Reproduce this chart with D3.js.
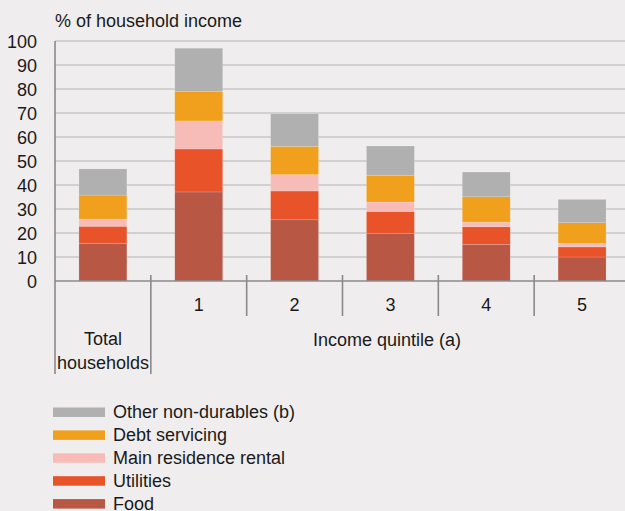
<!DOCTYPE html>
<html>
<head>
<meta charset="utf-8">
<script src="https://cdn.jsdelivr.net/npm/d3@7"></script>
<style>
  html, body { margin: 0; padding: 0; background: #efeded; }
  svg { display: block; }
  text { font-family: "Liberation Sans", Arial, Helvetica, sans-serif; fill: #1a1a1a; }
</style>
</head>
<body>
<svg id="chart" width="625" height="511"></svg>
<script>
const categories = ["Total households", "1", "2", "3", "4", "5"];
const seriesNames = ["Food", "Utilities", "Main residence rental", "Debt servicing", "Other non-durables (b)"];
const food      = [15.7, 37.1, 25.5, 19.9, 15.3, 10.0];
const utilities = [7.1, 17.9, 12.0, 9.1, 7.3, 4.2];
const rental    = [3.0, 11.7, 6.8, 3.9, 1.9, 1.5];
const debt      = [10.0, 12.2, 11.8, 11.1, 10.6, 8.6];
const other     = [10.9, 18.1, 13.6, 12.25, 10.3, 9.7];
const yTicks = [0, 10, 20, 30, 40, 50, 60, 70, 80, 90, 100];
const colors = ["#b95745", "#e9532a", "#f7bcb8", "#f0a01c", "#b0b0b1"];

const seriesValues = [food, utilities, rental, debt, other];
const rows = categories.map((c, i) => {
  const r = { cat: c };
  seriesNames.forEach((s, k) => r[s] = seriesValues[k][i]);
  return r;
});

const svg = d3.select("#chart");
const x = d3.scaleBand().domain(categories).range([55, 630]).paddingInner(0.5).paddingOuter(0.25);
const y = d3.scaleLinear().domain([0, 100]).range([281, 41]);

// gridlines
svg.append("g").selectAll("line").data(yTicks.filter(d => d > 0)).join("line")
  .attr("x1", 55).attr("x2", 625)
  .attr("y1", d => y(d)).attr("y2", d => y(d))
  .attr("stroke", "#c9c7c7").attr("stroke-width", 1.6);

// y labels
svg.append("g").selectAll("text").data(yTicks).join("text")
  .attr("x", 37).attr("y", d => y(d) + 6.5)
  .attr("text-anchor", "end").attr("font-size", 18)
  .text(d => d);

// title
svg.append("text").attr("x", 55).attr("y", 27).attr("font-size", 18).text("% of household income");

// bars
const stack = d3.stack().keys(seriesNames)(rows);
svg.append("g").selectAll("g").data(stack).join("g")
  .attr("fill", (d, i) => colors[i])
  .selectAll("rect").data(d => d).join("rect")
  .attr("x", d => x(d.data.cat))
  .attr("width", x.bandwidth())
  .attr("y", d => y(d[1]))
  .attr("height", d => y(d[0]) - y(d[1]))
  .attr("stroke", "rgba(255,255,255,0.25)").attr("stroke-width", 0.6);

// axes
const axisColor = "#8a8a8a";
svg.append("line").attr("x1", 55).attr("x2", 625).attr("y1", y(0)).attr("y2", y(0))
  .attr("stroke", axisColor).attr("stroke-width", 1.6);
svg.append("line").attr("x1", 55).attr("x2", 55).attr("y1", y(100)).attr("y2", 374)
  .attr("stroke", axisColor).attr("stroke-width", 1.6);

// category separators
const step = x.step();
const seps = categories.slice(1).map(c => x(c) - (step - x.bandwidth()) / 2);
svg.append("g").selectAll("line").data(seps).join("line")
  .attr("x1", d => d).attr("x2", d => d)
  .attr("y1", 275).attr("y2", (d, i) => i === 0 ? 374 : 316)
  .attr("stroke", axisColor).attr("stroke-width", 1.6);

// category labels
svg.append("g").selectAll("text").data(categories.slice(1)).join("text")
  .attr("x", d => x(d) + x.bandwidth() / 2).attr("y", 311)
  .attr("text-anchor", "middle").attr("font-size", 18).text(d => d);

const totalX = x(categories[0]) + x.bandwidth() / 2;
svg.append("text").attr("x", totalX).attr("y", 345).attr("text-anchor", "middle").attr("font-size", 18).text("Total");
svg.append("text").attr("x", totalX).attr("y", 369).attr("text-anchor", "middle").attr("font-size", 18).text("households");
svg.append("text").attr("x", 387).attr("y", 346).attr("text-anchor", "middle").attr("font-size", 18).text("Income quintile (a)");

// legend
const legendOrder = seriesNames.map((s, i) => ({ name: s, color: colors[i] })).reverse();
const lg = svg.append("g").selectAll("g").data(legendOrder).join("g")
  .attr("transform", (d, i) => `translate(0, ${407.5 + i * 22.9})`);
lg.append("rect").attr("x", 53).attr("y", 0).attr("width", 52).attr("height", 9.5).attr("fill", d => d.color);
lg.append("text").attr("x", 113).attr("y", 10.5).attr("font-size", 18).text(d => d.name);
</script>
</body>
</html>
